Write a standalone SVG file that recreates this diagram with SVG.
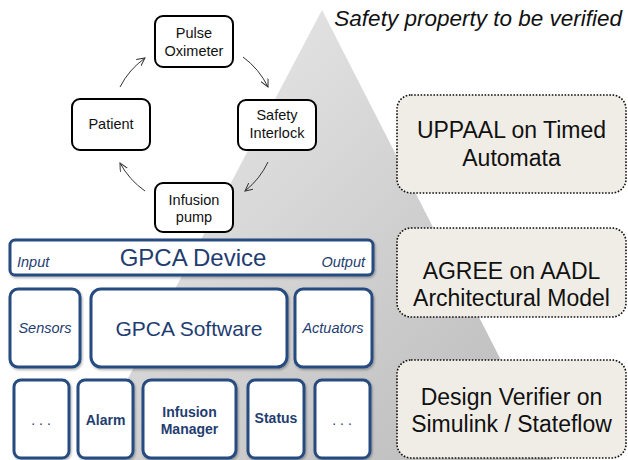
<svg xmlns="http://www.w3.org/2000/svg" width="628" height="460" viewBox="0 0 628 460">
<defs>
<linearGradient id="tri" x1="0" y1="0" x2="1" y2="1">
<stop offset="0" stop-color="#eeeeee"/>
<stop offset="1" stop-color="#b9b9b9"/>
</linearGradient>
<marker id="arr" markerWidth="10" markerHeight="10" refX="8" refY="4" orient="auto" markerUnits="userSpaceOnUse">
<path d="M0,0 L8,4 L0,8" fill="none" stroke="#333" stroke-width="1"/>
</marker>
<filter id="sh" x="-10%" y="-10%" width="120%" height="130%">
<feDropShadow dx="1" dy="1.5" stdDeviation="1" flood-color="#000" flood-opacity="0.3"/>
</filter>
</defs>
<style>
.cyc rect{fill:#fff;stroke:#000;stroke-width:2}
.cyc text{font-family:"Liberation Sans",Arial,sans-serif;font-size:14.5px;fill:#111;text-anchor:middle}
.dev rect{fill:#fff;stroke:#284b80;stroke-width:3;filter:url(#sh)}
.dev text{font-family:"Liberation Sans",Arial,sans-serif;fill:#1f3d70;text-anchor:middle}
.it{font-style:italic;font-size:14.5px}
.bd{font-weight:bold;font-size:14px}
.ver rect{fill:#efede6;stroke:#111;stroke-width:1.6;stroke-dasharray:1.6 1.6}
.ver text{font-family:"Liberation Sans",Arial,sans-serif;font-size:23px;fill:#111;text-anchor:middle}
.conn path{fill:none;stroke:#333;stroke-width:1;marker-end:url(#arr)}
</style>
<polygon points="322,10 85,460 552,460" fill="url(#tri)"/>
<text x="622" y="26" font-family="Liberation Sans,Arial,sans-serif" font-size="22.5" font-style="italic" fill="#111" text-anchor="end">Safety property to be verified</text>

<g id="pulse-oximeter" class="cyc"><rect x="155" y="16" width="78" height="51" rx="8"/><text x="194" y="38">Pulse</text><text x="194" y="56">Oximeter</text></g>
<g id="safety-interlock" class="cyc"><rect x="238" y="100" width="78" height="50" rx="8"/><text x="277" y="120">Safety</text><text x="277" y="138">Interlock</text></g>
<g id="patient" class="cyc"><rect x="72" y="99" width="78" height="51" rx="8"/><text x="111" y="129">Patient</text></g>
<g id="infusion-pump" class="cyc"><rect x="155" y="183" width="78" height="49" rx="8"/><text x="194" y="205">Infusion</text><text x="194" y="222">pump</text></g>

<g id="connectors" class="conn">
<path d="M120,87 A82,82 0 0 1 145,58"/>
<path d="M243,57 A82,82 0 0 1 268,87"/>
<path d="M268,162 A82,82 0 0 1 245,191"/>
<path d="M145,191 A82,82 0 0 1 120,163"/>
</g>

<g id="gpca-device" class="dev"><rect x="10" y="240" width="363" height="35" rx="5"/>
<text x="193" y="266" font-size="24">GPCA Device</text>
<text x="17" y="267" class="it" style="text-anchor:start">Input</text>
<text x="365" y="267" class="it" style="text-anchor:end">Output</text></g>
<g id="sensors" class="dev"><rect x="10" y="289" width="70" height="78" rx="8"/><text x="45" y="333" class="it">Sensors</text></g>
<g id="gpca-software" class="dev"><rect x="91" y="289" width="196" height="78" rx="10"/><text x="189" y="336" font-size="21">GPCA Software</text></g>
<g id="actuators" class="dev"><rect x="295" y="289" width="77" height="78" rx="8"/><text x="333" y="333" class="it">Actuators</text></g>
<g id="more-left" class="dev"><rect x="14" y="380" width="55" height="78" rx="7"/><text x="43" y="425" font-size="14" letter-spacing="4">...</text></g>
<g id="alarm" class="dev"><rect x="78" y="380" width="55" height="78" rx="7"/><text x="105.5" y="425" class="bd">Alarm</text></g>
<g id="infusion-manager" class="dev"><rect x="143" y="380" width="93" height="78" rx="8"/><text x="189.5" y="417" class="bd">Infusion</text><text x="189.5" y="434" class="bd">Manager</text></g>
<g id="status" class="dev"><rect x="248" y="380" width="56" height="78" rx="7"/><text x="276" y="423" class="bd">Status</text></g>
<g id="more-right" class="dev"><rect x="315" y="380" width="55" height="78" rx="7"/><text x="344" y="425" font-size="14" letter-spacing="4">...</text></g>

<g id="uppaal" class="ver"><rect x="397" y="95" width="229" height="98" rx="14"/><text x="511.5" y="138">UPPAAL on Timed</text><text x="511.5" y="166">Automata</text></g>
<g id="agree" class="ver"><rect x="397" y="228" width="229" height="89" rx="14"/><text x="511.5" y="279">AGREE on AADL</text><text x="511.5" y="306">Architectural Model</text></g>
<g id="design-verifier" class="ver"><rect x="397" y="360" width="229" height="98" rx="14"/><text x="511.5" y="405">Design Verifier on</text><text x="511.5" y="432">Simulink / Stateflow</text></g>
</svg>
